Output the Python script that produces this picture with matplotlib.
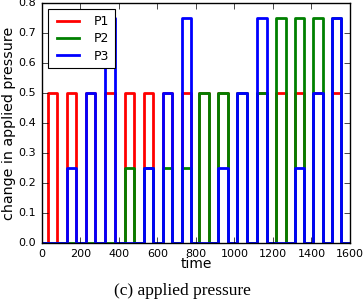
import numpy as np
import matplotlib
matplotlib.use("Agg")
import matplotlib.pyplot as plt

# pulse windows (time), one per period
starts = [35, 132, 230, 330, 430, 530, 628, 728, 818, 916, 1016, 1118, 1216, 1314, 1410, 1506]
ends = [80, 178, 274, 378, 480, 580, 678, 774, 866, 966, 1066, 1168, 1266, 1362, 1458, 1554]
t_end = 1600

p1 = [0.5, 0.5, 0.5, 0.5, 0.5, 0.5, 0.5, 0.5, 0.5, 0.5, 0.5, 0.5, 0.5, 0.5, 0.5, 0.5]
p2 = [0, 0, 0, 0, 0.25, 0.25, 0.25, 0.25, 0.5, 0.5, 0.5, 0.5, 0.75, 0.75, 0.75, 0.75]
p3 = [0, 0.25, 0.5, 0.75, 0, 0.25, 0.5, 0.75, 0, 0.25, 0.5, 0.75, 0, 0.25, 0.5, 0.75]

def pulses(vals):
  xs = [0]
  ys = [0]
  for s, e, v in zip(starts, ends, vals):
    xs += [s, s, e, e]
    ys += [0, v, v, 0]
  xs.append(t_end)
  ys.append(0)
  return xs, ys

plt.style.use("classic")
fig = plt.figure(figsize=(3.64, 3.04), dpi=100)
ax = fig.add_axes([0.1146, 0.2007, 0.8469, 0.7893])

for vals, c, lab in [(p1, "r", "P1"), (p2, "g", "P2"), (p3, "b", "P3")]:
  xs, ys = pulses(vals)
  ax.plot(xs, ys, color=c, lw=2, label=lab)

ax.set_xlim(0, 1600)
ax.set_ylim(0, 0.8)
ax.set_xticks(np.arange(0, 1601, 200))
ax.set_yticks(np.arange(0, 0.81, 0.1))
ax.tick_params(labelsize=8, length=4)
ax.set_xlabel("time", fontsize=10, labelpad=-1)
ax.set_ylabel("change in applied pressure", fontsize=10.3, labelpad=2)
leg = ax.legend(loc="upper left", fontsize=9, handlelength=2.3, borderpad=0.45,
                labelspacing=0.35, handletextpad=0.9, fancybox=False)
leg.get_frame().set_linewidth(0.8)

fig.text(0.5, 0.043, "(c) applied pressure", ha="center", va="center",
         fontsize=12.5, family="Liberation Serif")

fig.savefig("out.png", dpi=100)
